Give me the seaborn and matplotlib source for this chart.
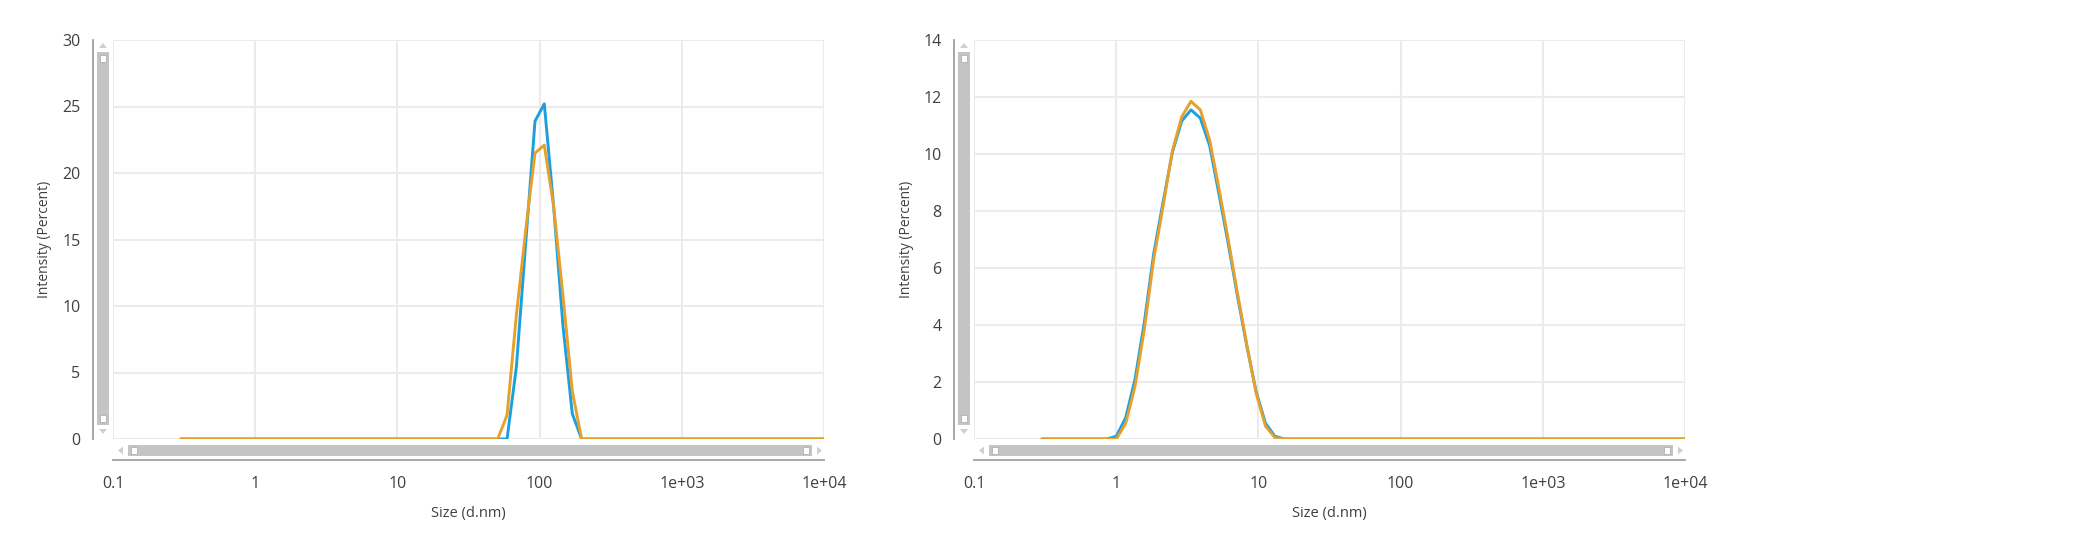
import matplotlib
matplotlib.use("Agg")
import matplotlib.pyplot as plt
from matplotlib.patches import Rectangle, Polygon
from matplotlib.ticker import FixedLocator, FixedFormatter, NullLocator
import seaborn as sns
import pandas as pd

# ---------------- data ----------------
x_ticks = [0.1, 1, 10, 100, 1000, 10000]
x_tick_labels = ["0.1", "1", "10", "100", "1e+03", "1e+04"]
x_label = "Size (d.nm)"
y_label = "Intensity (Percent)"
series_names = ["Record 1", "Record 2"]

sizes_left = [0.3, 43.65, 50.76, 59.03, 68.64, 79.82, 92.83, 107.9, 125.5,
              146.0, 169.8, 197.4, 229.6, 10000]
blue_left = [0, 0, 0, 0, 5.4, 14.7, 23.9, 25.2, 17.5, 8.5, 1.9, 0, 0, 0]
orange_left = [0, 0, 0, 1.8, 9.3, 15.7, 21.5, 22.1, 17.5, 10.8, 3.6, 0, 0, 0]
y_ticks_left = [0, 5, 10, 15, 20, 25, 30]

sizes_right = [0.3, 0.742, 0.8628, 1.0034, 1.1668, 1.3569, 1.578, 1.835, 2.134,
               2.481, 2.886, 3.356, 3.902, 4.538, 5.277, 6.137, 7.136, 8.299,
               9.651, 11.22, 13.05, 15.18, 17.65, 10000]
blue_right = [0, 0, 0, 0.1, 0.75, 2.1, 4.1, 6.5, 8.3, 10.05, 11.15, 11.55, 11.26,
              10.3, 8.6, 6.85, 5.0, 3.25, 1.65, 0.55, 0.1, 0, 0, 0]
orange_right = [0, 0, 0, 0, 0.55, 1.85, 3.85, 6.3, 8.15, 10.1, 11.3, 11.85, 11.55,
                10.5, 8.8, 7.0, 5.1, 3.3, 1.6, 0.45, 0.05, 0, 0, 0]
y_ticks_right = [0, 2, 4, 6, 8, 10, 12, 14]

colors = ["#1ba0dd", "#e6a02e"]

# ---------------- style ----------------
sns.set_style("white")
plt.rcParams["font.family"] = ["Open Sans", "DejaVu Sans"]

W, H = 2100, 536
fig = plt.figure(figsize=(W / 100, H / 100), dpi=100)


def px_rect(x0, y0, x1, y1):
    return [x0 / W, 1 - y1 / H, (x1 - x0) / W, (y1 - y0) / H]


def add_rect(x0, y0, x1, y1, fc, ec="none", lw=0):
    fig.patches.append(Rectangle((x0 / W, 1 - y1 / H), (x1 - x0) / W, (y1 - y0) / H,
                                 transform=fig.transFigure, fc=fc, ec=ec, lw=lw))


def add_tri(pts, fc):
    fig.patches.append(Polygon([(x / W, 1 - y / H) for x, y in pts], closed=True,
                               transform=fig.transFigure, fc=fc, ec="none"))


def make_panel(left, sizes, blue, orange, ymax, yticks):
    top, bottom = 40, 439
    right = left + 711
    ax = fig.add_axes(px_rect(left, top, right, bottom))
    df = pd.DataFrame({
        "size": list(sizes) + list(sizes),
        "value": list(blue) + list(orange),
        "series": [series_names[0]] * len(sizes) + [series_names[1]] * len(sizes),
    })
    sns.lineplot(data=df, x="size", y="value", hue="series", palette=colors,
                 linewidth=2.1, legend=False, ax=ax, sort=False)
    ax.set_xscale("log")
    ax.set_xlim(0.1, 10000)
    ax.set_ylim(0, ymax)
    ax.xaxis.set_major_locator(FixedLocator(x_ticks))
    ax.xaxis.set_major_formatter(FixedFormatter(x_tick_labels))
    ax.xaxis.set_minor_locator(NullLocator())
    ax.set_yticks(yticks)
    ax.set_yticklabels([str(v) for v in yticks])
    ax.set_axisbelow(True)
    ax.grid(True, color="#ebebeb", linewidth=1.5)
    for s in ["top", "right"]:
        ax.spines[s].set_visible(False)
    ax.spines["left"].set_position(("outward", 14.5))
    ax.spines["bottom"].set_position(("outward", 15))
    for s in ["left", "bottom"]:
        ax.spines[s].set_color("#a0a0a0")
        ax.spines[s].set_linewidth(1.3)
    ax.tick_params(axis="both", which="major", length=5, width=1.2, color="#a0a0a0",
                   labelsize=11.5, labelcolor="#404040", direction="out")
    ax.tick_params(axis="y", pad=4)
    ax.tick_params(axis="x", pad=7)
    ax.set_xlabel(x_label, fontsize=10.5, color="#404040")
    ax.set_ylabel(y_label, fontsize=10, color="#404040")
    ax.xaxis.set_label_coords(0.5, (439 - 513) / 399)
    ax.xaxis.label.set_va("center")
    ax.yaxis.set_label_coords(-68 / 711, 0.5)
    ax.yaxis.label.set_va("center")

    # vertical scrollbar
    gray = "#c4c4c4"
    light = "#cfcfcf"
    add_rect(left - 16, 52, left - 4, 425, gray)
    add_rect(left - 13, 55, left - 7, 62, "white", "#b0b0b0", 0.6)
    add_rect(left - 13, 415, left - 7, 422, "white", "#b0b0b0", 0.6)
    add_tri([(left - 14, 48), (left - 6, 48), (left - 10, 43)], light)
    add_tri([(left - 14, 429), (left - 6, 429), (left - 10, 434)], light)
    # horizontal scrollbar
    add_rect(left + 15, 445, left + 699, 456, gray)
    add_rect(left + 18, 447, left + 24, 454, "white", "#b0b0b0", 0.6)
    add_rect(left + 690, 447, left + 696, 454, "white", "#b0b0b0", 0.6)
    add_tri([(left + 10, 446.5), (left + 10, 454.5), (left + 5, 450.5)], light)
    add_tri([(left + 704, 446.5), (left + 704, 454.5), (left + 709, 450.5)], light)
    return ax


make_panel(113, sizes_left, blue_left, orange_left, 30, y_ticks_left)
make_panel(974, sizes_right, blue_right, orange_right, 14, y_ticks_right)

fig.savefig("out.png", dpi=100, facecolor="white")
